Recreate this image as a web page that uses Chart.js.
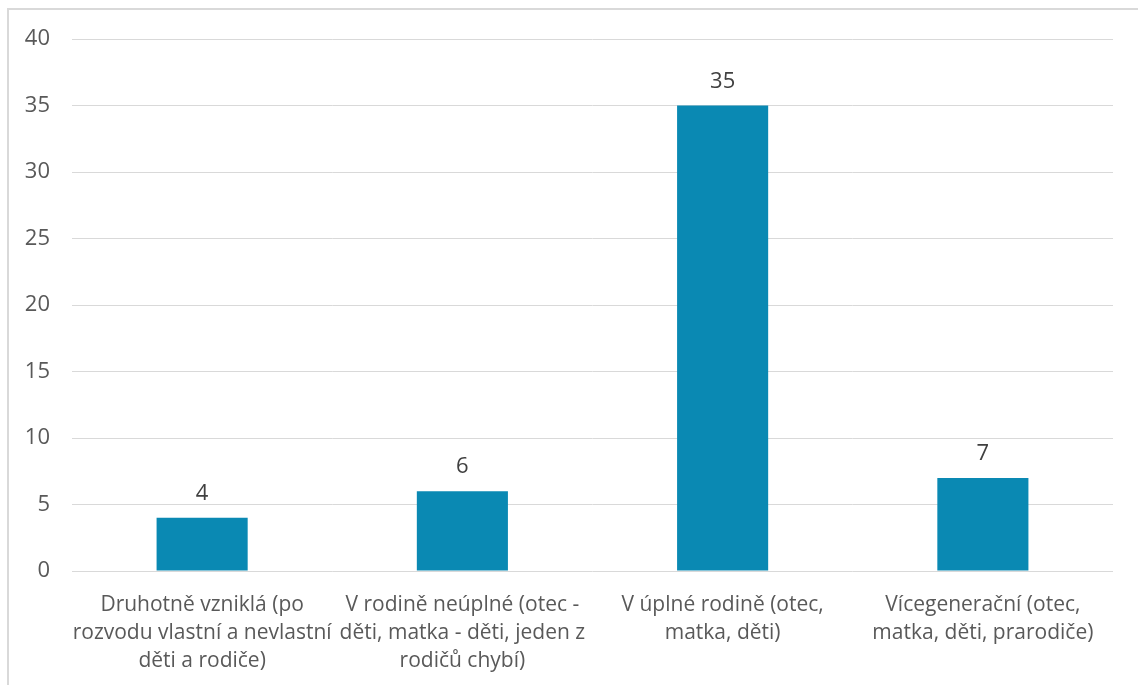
<!DOCTYPE html>
<html>
<head>
<meta charset="utf-8">
<script src="https://cdn.jsdelivr.net/npm/chart.js@4/dist/chart.umd.min.js"></script>
<style>
  html, body { margin: 0; padding: 0; background: #fff; }
  #wrap { position: relative; width: 1138px; height: 685px; overflow: hidden; }
  #frame { position: absolute; left: 7px; top: 8px; width: 1200px; height: 800px; border: 2px solid #d9d9d9; box-sizing: border-box; }
  canvas { position: absolute; left: 0; top: 0; }
</style>
</head>
<body>
<div id="wrap">
  <div id="frame"></div>
  <canvas id="chart" width="1138" height="685"></canvas>
</div>
<script>
const categories = [
  ['Druhotně vzniklá (po', 'rozvodu vlastní a nevlastní', 'děti a rodiče)'],
  ['V rodině neúplné (otec -', 'děti, matka - děti, jeden z', 'rodičů chybí)'],
  ['V úplné rodině (otec,', 'matka, děti)'],
  ['Vícegenerační (otec,', 'matka, děti, prarodiče)']
];
const values = [4, 6, 35, 7];
const yTicks = [0, 5, 10, 15, 20, 25, 30, 35, 40];

const textColor = '#595959';
const fontFamily = '"Open Sans", "Noto Sans", sans-serif';

// value labels above each bar
const barLabels = {
  id: 'barLabels',
  afterDatasetsDraw(chart) {
    const ctx = chart.ctx;
    const meta = chart.getDatasetMeta(0);
    ctx.save();
    ctx.fillStyle = '#404040';
    ctx.font = '22px ' + fontFamily;
    ctx.textAlign = 'center';
    ctx.textBaseline = 'middle';
    meta.data.forEach((bar, i) => {
      ctx.fillText(String(values[i]), bar.x, bar.y - 24);
    });
    ctx.restore();
  }
};

new Chart(document.getElementById('chart'), {
  type: 'bar',
  data: {
    labels: categories,
    datasets: [{
      data: values,
      backgroundColor: '#0a89b3',
      categoryPercentage: 1,
      barPercentage: 0.35
    }]
  },
  options: {
    responsive: false,
    animation: false,
    layout: { padding: { top: 39, right: 25, left: 0, bottom: 0 } },
    plugins: { legend: { display: false }, tooltip: { enabled: false } },
    scales: {
      x: {
        grid: { display: false, drawTicks: false },
        border: { display: false },
        ticks: {
          color: textColor,
          font: { family: fontFamily, size: 21, lineHeight: 1.333 },
          padding: 20,
          maxRotation: 0,
          autoSkip: false
        },
        afterFit(scale) { scale.height = 685 - 571; }
      },
      y: {
        min: 0,
        max: 40,
        afterBuildTicks(scale) { scale.ticks = yTicks.map(v => ({ value: v })); },
        grid: { color: '#d9d9d9', lineWidth: 1, drawTicks: false },
        border: { display: false },
        ticks: {
          color: textColor,
          font: { family: fontFamily, size: 22 },
          padding: 22
        },
        afterFit(scale) { scale.width = 72; }
      }
    }
  },
  plugins: [barLabels]
});
</script>
</body>
</html>
